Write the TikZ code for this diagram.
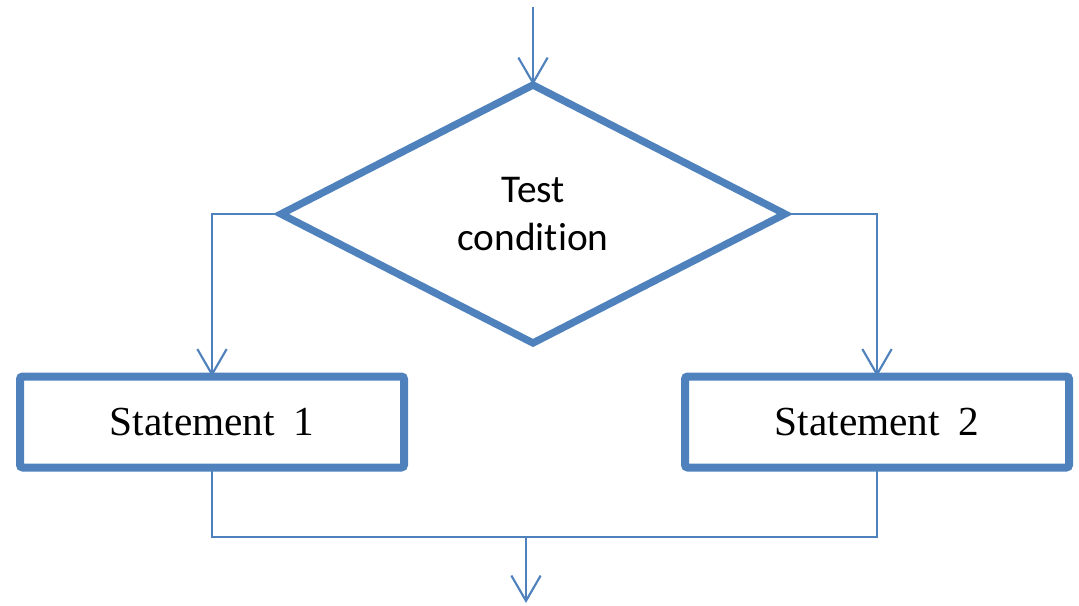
\documentclass[tikz,border=0pt]{standalone}
\usepackage{fontspec}
\setmainfont{Liberation Serif}
\newfontfamily\labelfont[Ligatures=NoCommon]{Carlito}
\usetikzlibrary{arrows.meta,shapes.geometric}
\definecolor{flowblue}{HTML}{4F81BD}
\tikzset{
  flow/.style={draw=flowblue, line width=1.6pt},
  arr/.style={flow, -{Straight Barb[length=19pt,width=22pt,line width=1.6pt]}},
  decision/.style={diamond, draw=flowblue, line width=5.5pt, outer sep=0pt, inner sep=0pt,
    minimum width=378pt, minimum height=193.5pt, aspect=1.95,
    font=\labelfont\fontsize{29.5}{36}\selectfont, align=center},
  stmt/.style={rectangle, draw=flowblue, line width=6pt, rounded corners=2pt, outer sep=0pt,
    minimum width=288pt, minimum height=68.25pt, font=\fontsize{31}{36}\selectfont}
}
\begin{document}
\begin{tikzpicture}[x=0.75pt,y=-0.75pt]
  \useasboundingbox (0,0) rectangle (1079,606);
  \node[decision] (test) at (533,214) {Test\\condition};
  \node[stmt] (s1) at (212,422) {Statement\hspace{0.45em}1};
  \node[stmt] (s2) at (877,422) {Statement\hspace{0.45em}2};
  \coordinate (entry) at (533,7);
  \coordinate (join) at (526,537);
  \coordinate (exit) at (526,603);
  \draw[arr] (entry) -- (test.north);
  \draw[arr] (test.west) -| (s1.north);
  \draw[arr] (test.east) -| (s2.north);
  \draw[flow] (s1.south) |- (join) -| (s2.south);
  \draw[arr] (join) -- (exit);
\end{tikzpicture}
\end{document}
